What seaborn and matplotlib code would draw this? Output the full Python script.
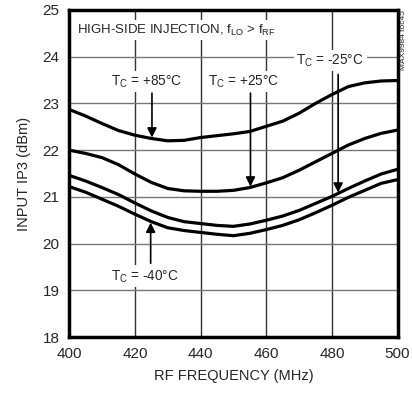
import numpy as np
import pandas as pd
import matplotlib.pyplot as plt
import seaborn as sns

# datos (cada 5 MHz)
freq = list(range(400, 505, 5))
ip3_p85 = [22.87, 22.73, 22.57, 22.42, 22.32, 22.25, 22.20, 22.21, 22.27, 22.31, 22.35,
           22.40, 22.51, 22.62, 22.79, 23.00, 23.19, 23.36, 23.44, 23.48, 23.49]
ip3_p25 = [22.00, 21.93, 21.84, 21.69, 21.49, 21.31, 21.18, 21.13, 21.12, 21.12, 21.14,
           21.20, 21.30, 21.41, 21.57, 21.75, 21.93, 22.11, 22.25, 22.36, 22.43]
ip3_m25 = [21.46, 21.34, 21.20, 21.05, 20.87, 20.70, 20.56, 20.47, 20.43, 20.39, 20.37,
           20.42, 20.50, 20.59, 20.71, 20.86, 21.01, 21.18, 21.34, 21.49, 21.59]
ip3_m40 = [21.22, 21.10, 20.95, 20.80, 20.63, 20.47, 20.34, 20.28, 20.24, 20.20, 20.17,
           20.22, 20.30, 20.39, 20.51, 20.66, 20.82, 20.99, 21.14, 21.29, 21.37]

series = {'+85': ip3_p85, '+25': ip3_p25, '-25': ip3_m25, '-40': ip3_m40}
x_ticks = [400, 420, 440, 460, 480, 500]
y_ticks = [18, 19, 20, 21, 22, 23, 24, 25]

df = pd.concat([pd.DataFrame({'freq': freq, 'ip3': v, 'tc': k}) for k, v in series.items()])

sns.set_style('white')
plt.rcParams['font.family'] = ['Liberation Sans', 'DejaVu Sans']
plt.rcParams['mathtext.fontset'] = 'custom'
plt.rcParams['mathtext.rm'] = 'Liberation Sans'

fig = plt.figure(figsize=(4.12, 3.98), dpi=100)
ax = fig.add_axes([0.168, 0.153, 0.797, 0.822])

sns.lineplot(data=df, x='freq', y='ip3', hue='tc', palette=['black'] * 4,
             linewidth=2.3, legend=False, ax=ax, zorder=3)

ax.set_xlim(400, 500)
ax.set_ylim(18, 25)
ax.set_xticks(x_ticks)
ax.set_yticks(y_ticks)
ax.tick_params(length=0, labelsize=11, pad=7)
for v in x_ticks[1:-1]:
    ax.axvline(v, color='#333333', lw=1.0, zorder=1)
for v in y_ticks[1:-1]:
    ax.axhline(v, color='#777777', lw=1.0, zorder=1)
for s in ax.spines.values():
    s.set_linewidth(2.5)
    s.set_color('black')
    s.set_zorder(5)

ax.set_xlabel('RF FREQUENCY (MHz)', fontsize=10.5, labelpad=6)
ax.set_ylabel('INPUT IP3 (dBm)', fontsize=10.5, labelpad=8)

box = dict(facecolor='white', edgecolor='none', pad=2)
ax.text(402.5, 24.57, r'HIGH-SIDE INJECTION, f$_\mathregular{LO}$ > f$_\mathregular{RF}$',
        fontsize=9.5, va='center', ha='left', bbox=box, zorder=4)

def etiqueta(x, y, txt, x0, y0, x1, y1):
    ax.text(x, y, r'T$_\mathregular{C}$ = ' + txt, fontsize=9.8, ha='center', va='center',
            bbox=box, zorder=4)
    ax.annotate('', xy=(x1, y1), xytext=(x0, y0),
                arrowprops=dict(arrowstyle='-|>', color='black', lw=1.2,
                                mutation_scale=14, shrinkA=0, shrinkB=0), zorder=4)

etiqueta(423.5, 23.47, '+85°C', 425.2, 23.22, 425.2, 22.27)
etiqueta(453.2, 23.47, '+25°C', 455.2, 23.22, 455.2, 21.22)
etiqueta(479.5, 23.92, '-25°C', 481.9, 23.62, 481.9, 21.09)
etiqueta(423.0, 19.3, '-40°C', 424.8, 19.58, 424.8, 20.45)

fig.text(0.979, 0.975, 'MAX9984 toc45', rotation=90, fontsize=6, ha='center', va='top')

fig.savefig('out.png', dpi=100)
